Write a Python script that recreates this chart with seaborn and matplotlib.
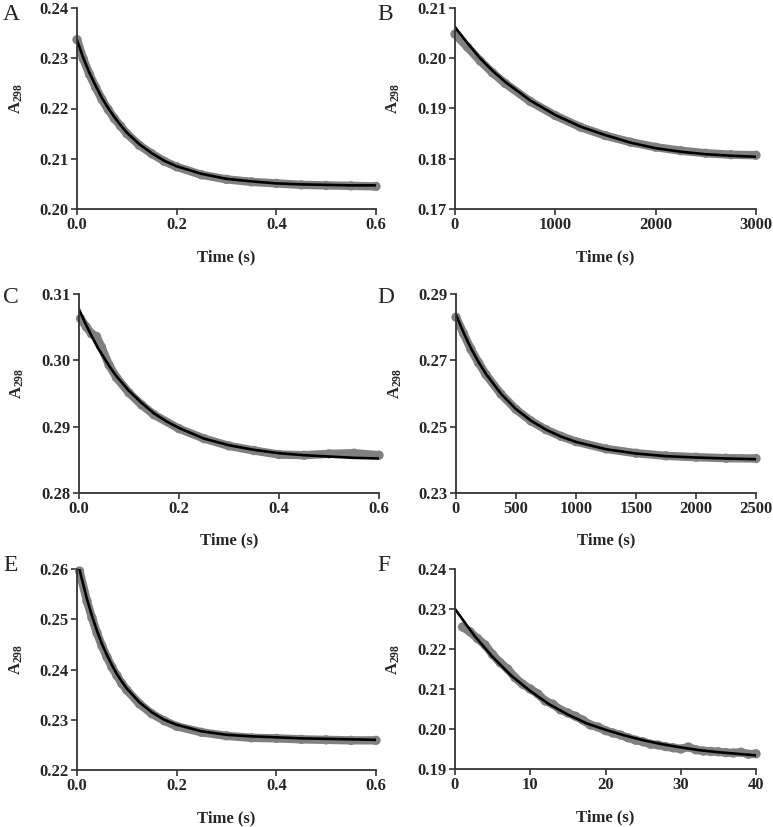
import pandas as pd
import matplotlib
matplotlib.use('Agg')
import matplotlib.pyplot as plt
import seaborn as sns
from matplotlib.ticker import FormatStrFormatter

# panel A
A_t = [0, 0.0125, 0.025, 0.0375, 0.05, 0.0625, 0.075, 0.0875, 0.1, 0.125, 0.15, 0.175,
       0.2, 0.25, 0.3, 0.35, 0.4, 0.45, 0.5, 0.55, 0.6]
A_data = [0.2337, 0.2299, 0.2268, 0.2242, 0.2218, 0.2198, 0.2180, 0.2165, 0.2150, 0.2127,
          0.2110, 0.2095, 0.2084, 0.2068, 0.2059, 0.2054, 0.2051, 0.2048, 0.2047, 0.2046,
          0.2045]
A_fit = [0.2336, 0.2301, 0.2271, 0.2245, 0.2221, 0.2201, 0.2183, 0.2167, 0.2152, 0.2129,
         0.2111, 0.2096, 0.2085, 0.2070, 0.2060, 0.2055, 0.2051, 0.2049, 0.2048, 0.2047,
         0.2047]

# panel B
B_t = [0, 125, 250, 375, 500, 750, 1000, 1250, 1500, 1750, 2000, 2250, 2500, 2750, 3000]
B_data = [0.2048, 0.2022, 0.1995, 0.1971, 0.1950, 0.1914, 0.1886, 0.1863, 0.1846, 0.1833,
          0.1823, 0.1816, 0.1811, 0.1808, 0.1807]
B_fit = [0.2062, 0.2030, 0.2000, 0.1975, 0.1953, 0.1916, 0.1887, 0.1864, 0.1847, 0.1832,
         0.1821, 0.1814, 0.1809, 0.1806, 0.1804]

# panel C
C_t = [0, 0.0125, 0.025, 0.0375, 0.05, 0.0625, 0.075, 0.1, 0.125, 0.15, 0.175, 0.2, 0.25,
       0.3, 0.35, 0.4, 0.45, 0.5, 0.55, 0.6]
C_fit = [0.3077, 0.3056, 0.3037, 0.3019, 0.3004, 0.2989, 0.2976, 0.2954, 0.2936, 0.2920,
         0.2908, 0.2898, 0.2882, 0.2872, 0.2865, 0.2860, 0.2857, 0.2855, 0.2853, 0.2852]
C_data_t = [0.003, 0.015, 0.025, 0.035, 0.045, 0.06, 0.075, 0.1, 0.125, 0.15, 0.2, 0.25,
            0.3, 0.35, 0.4, 0.45, 0.5, 0.55, 0.6]
C_data = [0.3063, 0.3050, 0.3040, 0.3036, 0.3020, 0.2993, 0.2974, 0.2951, 0.2933, 0.2918,
          0.2897, 0.2882, 0.2871, 0.2864, 0.2858, 0.2857, 0.2859, 0.2860, 0.2857]

# panel D
D_t = [0, 62.5, 125, 187.5, 250, 375, 500, 625, 750, 875, 1000, 1250, 1500, 1750, 2000,
       2250, 2500]
D_data = [0.2830, 0.2781, 0.2733, 0.2693, 0.2657, 0.2598, 0.2552, 0.2517, 0.2491, 0.2471,
          0.2455, 0.2433, 0.2420, 0.2412, 0.2408, 0.2405, 0.2404]
D_fit = [0.2837, 0.2784, 0.2736, 0.2695, 0.2659, 0.2599, 0.2553, 0.2518, 0.2491, 0.2470,
         0.2454, 0.2432, 0.2419, 0.2411, 0.2407, 0.2404, 0.2402]

# panel E
E_t = [0.005, 0.02, 0.03, 0.04, 0.05, 0.06, 0.07, 0.08, 0.09, 0.1, 0.125, 0.15, 0.175,
       0.2, 0.25, 0.3, 0.35, 0.4, 0.45, 0.5, 0.55, 0.6]
E_data = [0.2596, 0.2536, 0.2503, 0.2473, 0.2447, 0.2425, 0.2405, 0.2388, 0.2372, 0.2359,
          0.2332, 0.2312, 0.2298, 0.2287, 0.2275, 0.2268, 0.2264, 0.2263, 0.2261, 0.2260,
          0.2259, 0.2259]
E_fit = [0.2599, 0.2540, 0.2507, 0.2477, 0.2451, 0.2429, 0.2409, 0.2391, 0.2376, 0.2362,
         0.2335, 0.2315, 0.2300, 0.2290, 0.2277, 0.2270, 0.2267, 0.2265, 0.2263, 0.2262,
         0.2261, 0.2260]

# panel F
F_t = [0, 2.5, 5, 7.5, 10, 12.5, 15, 17.5, 20, 22.5, 25, 27.5, 30, 32.5, 35, 37.5, 40]
F_fit = [0.2300, 0.2235, 0.2180, 0.2133, 0.2095, 0.2062, 0.2036, 0.2014, 0.1998, 0.1984,
         0.1972, 0.1962, 0.1954, 0.1947, 0.1942, 0.1938, 0.1934]
F_data_t = list(range(1, 41))
F_data = [0.2255, 0.2243, 0.2226, 0.2210, 0.2186, 0.2166, 0.2150, 0.2128, 0.2112, 0.2100,
          0.2088, 0.2070, 0.2062, 0.2048, 0.2040, 0.2032, 0.2022, 0.2010, 0.2005, 0.1996,
          0.1990, 0.1985, 0.1978, 0.1972, 0.1968, 0.1962, 0.1960, 0.1956, 0.1953, 0.1950,
          0.1955, 0.1948, 0.1945, 0.1944, 0.1943, 0.1941, 0.1940, 0.1942, 0.1937, 0.1938]

panels = [
    ('A', A_t, A_data, A_t, A_fit, (0, 0.6), [0, 0.2, 0.4, 0.6], '%.1f',
     (0.20, 0.24), [0.20, 0.21, 0.22, 0.23, 0.24], '%.2f'),
    ('B', B_t, B_data, B_t, B_fit, (0, 3000), [0, 1000, 2000, 3000], '%d',
     (0.17, 0.21), [0.17, 0.18, 0.19, 0.20, 0.21], '%.2f'),
    ('C', C_data_t, C_data, C_t, C_fit, (0, 0.6), [0, 0.2, 0.4, 0.6], '%.1f',
     (0.28, 0.31), [0.28, 0.29, 0.30, 0.31], '%.2f'),
    ('D', D_t, D_data, D_t, D_fit, (0, 2500), [0, 500, 1000, 1500, 2000, 2500], '%d',
     (0.23, 0.29), [0.23, 0.25, 0.27, 0.29], '%.2f'),
    ('E', E_t, E_data, E_t, E_fit, (0, 0.6), [0, 0.2, 0.4, 0.6], '%.1f',
     (0.22, 0.26), [0.22, 0.23, 0.24, 0.25, 0.26], '%.2f'),
    ('F', F_data_t, F_data, F_t, F_fit, (0, 40), [0, 10, 20, 30, 40], '%d',
     (0.19, 0.24), [0.19, 0.20, 0.21, 0.22, 0.23, 0.24], '%.2f'),
]

# axes boxes in figure pixels: left, top, right, bottom
boxes = [(77, 8, 376, 209), (455, 8, 756, 209),
         (79, 294, 379, 493), (456, 294, 756, 493),
         (77, 569, 376, 770), (455, 569, 756, 769)]
letter_pos = [(3, 4), (377, 4), (3, 287), (377, 287), (3, 555), (377, 555)]


def main():
    sns.set_style('ticks')
    plt.rcParams['font.family'] = ['Liberation Serif', 'DejaVu Serif']
    plt.rcParams['mathtext.fontset'] = 'custom'
    plt.rcParams['mathtext.rm'] = 'Liberation Serif'
    plt.rcParams['mathtext.bf'] = 'Liberation Serif:bold'

    W, H = 773, 827
    fig = plt.figure(figsize=(W / 100, H / 100), dpi=100)

    for (name, dt, dv, ft, fv, xl, xt, xf, yl, yt, yf), box, lp in zip(panels, boxes, letter_pos):
        l, t, r, b = box
        ax = fig.add_axes([l / W, 1 - b / H, (r - l) / W, (b - t) / H])
        data = pd.DataFrame({'t': dt, 'A': dv})
        fit = pd.DataFrame({'t': ft, 'A': fv})
        # measured trace: thick grey band of points
        sns.lineplot(data=data, x='t', y='A', ax=ax, color='#808080', linewidth=6,
                     solid_capstyle='round')
        sns.scatterplot(data=data, x='t', y='A', ax=ax, color='#808080', s=45,
                        edgecolor='none', clip_on=False)
        # fitted curve
        sns.lineplot(data=fit, x='t', y='A', ax=ax, color='black', linewidth=1.9)

        ax.set_xlim(*xl)
        ax.set_ylim(*yl)
        ax.set_xticks(xt)
        ax.set_yticks(yt)
        ax.xaxis.set_major_formatter(FormatStrFormatter(xf))
        ax.yaxis.set_major_formatter(FormatStrFormatter(yf))
        sns.despine(ax=ax)
        for s in ['left', 'bottom']:
            ax.spines[s].set_linewidth(1.3)
            ax.spines[s].set_color('#333333')
        ax.tick_params(direction='out', length=4, width=1.2, color='#333333',
                       labelsize=12, pad=2)
        for lab in ax.get_xticklabels() + ax.get_yticklabels():
            lab.set_fontweight('bold')

        ax.set_xlabel('Time (s)', fontsize=12, fontweight='bold')
        ax.xaxis.set_label_coords(0.5, -0.2)
        ax.set_ylabel(r'$\mathbf{A_{298}}$', fontsize=12)
        ax.yaxis.set_label_coords(-0.175, 0.55)

        fig.text(lp[0] / W, 1 - lp[1] / H, name, fontsize=17, va='top', ha='left')

    fig.savefig('out.png', dpi=100)


if __name__ == '__main__':
    main()
